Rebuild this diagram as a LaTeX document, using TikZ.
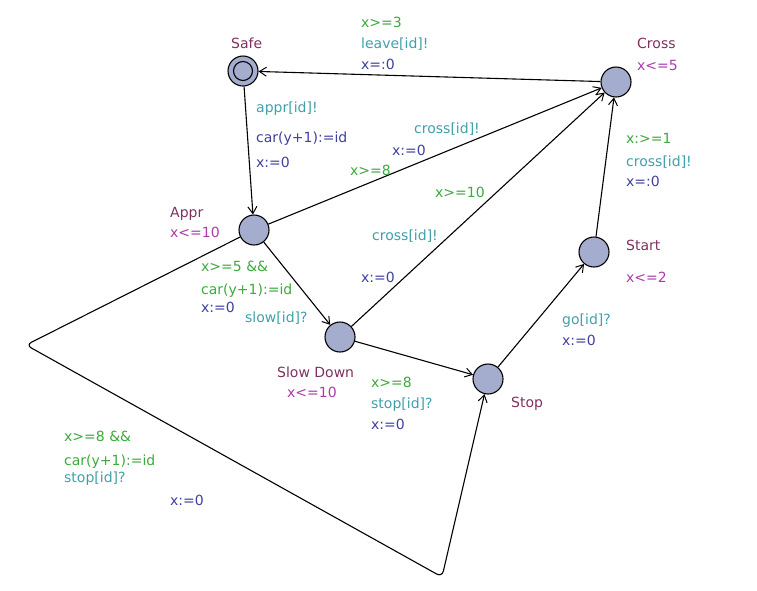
\documentclass[tikz,border=0pt]{standalone}
\usepackage{fontspec}
\setmainfont{DejaVu Sans}
\usetikzlibrary{arrows.meta}
\definecolor{locname}{RGB}{128,48,96}
\definecolor{invcol}{RGB}{170,60,170}
\definecolor{guardcol}{RGB}{60,170,60}
\definecolor{synccol}{RGB}{64,160,170}
\definecolor{updcol}{RGB}{64,64,160}
\definecolor{locfill}{RGB}{165,173,207}
\begin{document}
\begin{tikzpicture}[x=1pt,y=-1pt,
  loc/.style={circle,draw,line width=1.1pt,fill=locfill,minimum size=30pt,inner sep=0pt},
  lbl/.style={anchor=base west,inner sep=0pt,font=\fontsize{14}{16}\selectfont},
  nm/.style={lbl,text=locname},
  inv/.style={lbl,text=invcol},
  grd/.style={lbl,text=guardcol},
  syn/.style={lbl,text=synccol},
  upd/.style={lbl,text=updcol},
  edge/.style={line width=1.1pt,-{Straight Barb[length=7pt,width=9pt,line width=1pt]}}]
\useasboundingbox (0,0) rectangle (757,590);
% locations
\node[loc] (safe) at (243,71) {};
\draw[line width=1.1pt] (safe.center) circle (9.5pt);
\node[loc] (cross) at (616,82) {};
\node[loc] (appr) at (254,230) {};
\node[loc] (slow) at (340,337) {};
\node[loc] (stop) at (488,379) {};
\node[loc] (start) at (594,252) {};
\coordinate (c1) at (26,345);
\coordinate (c2) at (442,577);
% edges
\draw[edge] (cross) -- (safe);
\draw[edge] (safe) -- (appr);
\draw[edge] (appr) -- (cross);
\draw[edge] (slow) -- (cross);
\draw[edge] (start) -- (cross);
\draw[edge] (appr) -- (slow);
\draw[edge] (slow) -- (stop);
\draw[edge] (stop) -- (start);
\draw[edge,rounded corners=6pt] (appr) -- (c1) -- (c2) -- (stop);
% location names and invariants
\node[nm] (lsafe) at (231,48) {Safe};
\node[nm] (lcross) at (637,48) {Cross};
\node[inv] (icross) at (637,70) {x<=5};
\node[nm] (lappr) at (170,217) {Appr};
\node[inv] (iappr) at (170,237) {x<=10};
\node[nm] (lstart) at (626,250) {Start};
\node[inv] (istart) at (626,282) {x<=2};
\node[nm] (lslow) at (277,377) {Slow Down};
\node[inv] (islow) at (287,397) {x<=10};
\node[nm] (lstop) at (511,407) {Stop};
% Cross -> Safe
\node[grd] (g1) at (361,27) {x>=3};
\node[syn] (s1) at (361,48) {leave[id]!};
\node[upd] (u1) at (361,69) {x=:0};
% Safe -> Appr
\node[syn] (s2) at (256,112) {appr[id]!};
\node[upd] (u2a) at (256,142) {car(y+1):=id};
\node[upd] (u2b) at (256,167) {x:=0};
% Appr -> Cross
\node[syn] (s3) at (414,133) {cross[id]!};
\node[upd] (u3) at (392,155) {x:=0};
\node[grd] (g3) at (350,175) {x>=8};
% Start -> Cross
\node[grd] (g4) at (626,143) {x:>=1};
\node[syn] (s4) at (626,166) {cross[id]!};
\node[upd] (u4) at (626,186) {x=:0};
% Slow -> Cross
\node[grd] (g5) at (435,197) {x>=10};
\node[syn] (s5) at (372,240) {cross[id]!};
\node[upd] (u5) at (361,282) {x:=0};
% Appr -> Slow
\node[grd] (g6a) at (201,271) {x>=5 \&\&};
\node[grd] (g6b) at (201,294) {car(y+1):=id};
\node[upd] (u6) at (201,312) {x:=0};
\node[syn] (s6) at (245,322) {slow[id]?};
% Stop -> Start
\node[syn] (s7) at (562,324) {go[id]?};
\node[upd] (u7) at (562,345) {x:=0};
% Slow -> Stop
\node[grd] (g8) at (371,387) {x>=8};
\node[syn] (s8) at (371,408) {stop[id]?};
\node[upd] (u8) at (371,429) {x:=0};
% Appr -> Stop (long)
\node[grd] (g9a) at (64,441) {x>=8 \&\&};
\node[grd] (g9b) at (64,465) {car(y+1):=id};
\node[syn] (s9) at (64,482) {stop[id]?};
\node[upd] (u9) at (170,505) {x:=0};
\end{tikzpicture}
\end{document}
